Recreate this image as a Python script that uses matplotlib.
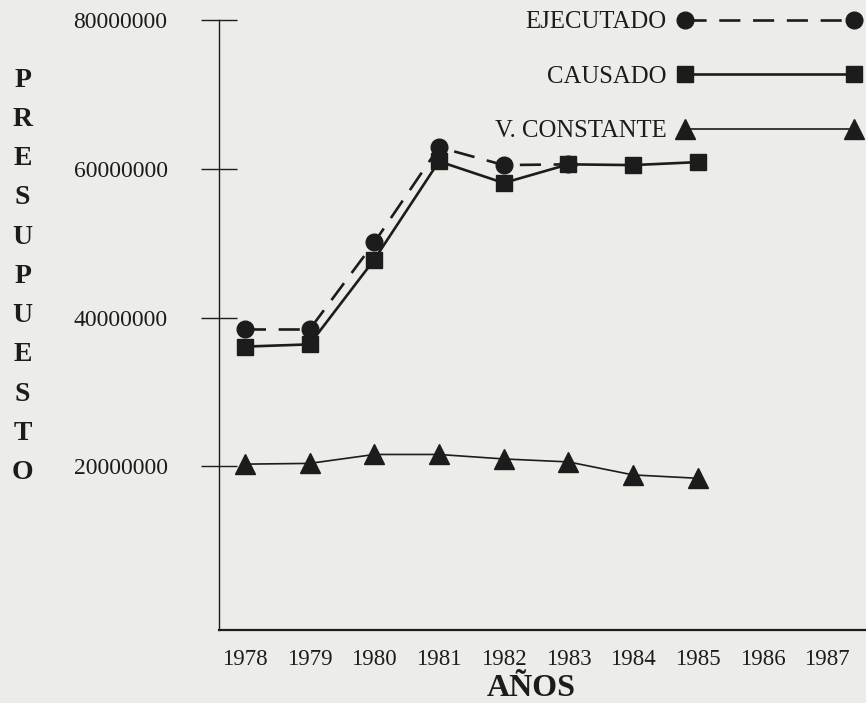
import matplotlib
matplotlib.use("Agg")
import matplotlib.pyplot as plt

# datos (valores en pesos)
anios = [1978, 1979, 1980, 1981, 1982, 1983, 1984, 1985]
ejecutado = [38.4e6, 38.4e6, 50.1e6, 62.9e6, 60.5e6, 60.6e6]
causado = [36.1e6, 36.4e6, 47.8e6, 61.0e6, 58.1e6, 60.6e6, 60.5e6, 60.9e6]
v_constante = [20.3e6, 20.4e6, 21.6e6, 21.6e6, 21.0e6, 20.6e6, 18.85e6, 18.4e6]

anios_eje = list(range(1978, 1988))
y_ticks = [20000000, 40000000, 60000000, 80000000]

fondo = '#ecece9'
tinta = '#1c1c1c'
fuente = 'Liberation Serif'

plt.rcParams['font.family'] = [fuente, 'DejaVu Serif']

fig = plt.figure(figsize=(8.66, 7.03), dpi=100, facecolor=fondo)
ax = fig.add_axes([0.2529, 0.1038, 0.7471, 0.8677])
ax.set_facecolor(fondo)

l1, = ax.plot(anios[:len(ejecutado)], ejecutado, color=tinta, lw=1.9,
              dashes=(8, 4.8), marker='o', ms=12, label='EJECUTADO')
l2, = ax.plot(anios, causado, color=tinta, lw=1.9, marker='s', ms=12,
              label='CAUSADO')
l3, = ax.plot(anios, v_constante, color=tinta, lw=1.2, marker='^', ms=15,
              label='V. CONSTANTE')

ax.set_xlim(1977.6, 1987.6)
ax.set_ylim(-2000000, 80000000)

ax.set_xticks(anios_eje)
ax.set_xticklabels([str(a) for a in anios_eje], fontsize=16.5)
ax.set_yticks(y_ticks)
ax.set_yticklabels([str(v) for v in y_ticks], fontsize=17)

ax.tick_params(axis='x', length=0, pad=14, colors=tinta)
ax.tick_params(axis='y', direction='inout', length=26, width=1.0, pad=24,
               colors=tinta)

for lado in ['top', 'right']:
    ax.spines[lado].set_visible(False)
ax.spines['left'].set_linewidth(1.0)
ax.spines['bottom'].set_linewidth(1.6)
ax.spines['left'].set_color(tinta)
ax.spines['bottom'].set_color(tinta)

leg = ax.legend(handles=[l1, l2, l3], loc='upper right',
                bbox_to_anchor=(861 / 866, 1 - 11 / 703),
                bbox_transform=fig.transFigure, frameon=False,
                markerfirst=False, numpoints=2, handlelength=7.4,
                handletextpad=0.45, labelspacing=1.3, borderpad=0,
                borderaxespad=0, prop={'family': fuente, 'size': 17.8})
for t in leg.get_texts():
    t.set_color(tinta)

fig.text(0.026, 0.607, '\n'.join('PRESUPUESTO'), ha='center', va='center',
         fontsize=20, fontweight='bold', linespacing=1.75, color=tinta)
fig.text(0.614, 0.0, 'AÑOS', ha='center', va='bottom', fontsize=23,
         fontweight='bold', color=tinta)

fig.savefig('out.png', dpi=100, facecolor=fondo)
